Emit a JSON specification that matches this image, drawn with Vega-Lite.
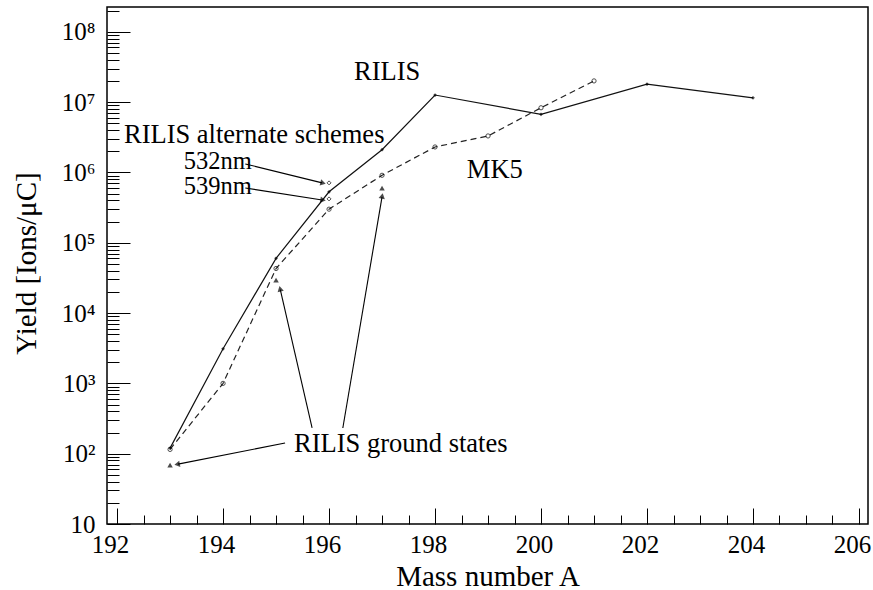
{
  "$schema": "https://vega.github.io/schema/vega-lite/v6.json",
  "width": 761,
  "height": 517,
  "autosize": {"type": "none"},
  "padding": {"left": 107, "top": 7, "right": 5, "bottom": 66},
  "background": "white",
  "config": {"view": {"stroke": "#000", "strokeWidth": 1.5}, "font": "Liberation Serif"},
  "datasets": {
    "series": [
      {"A": 193, "Y": 120, "series": "RILIS"},
      {"A": 194, "Y": 3100, "series": "RILIS"},
      {"A": 195, "Y": 60000, "series": "RILIS"},
      {"A": 196, "Y": 530000, "series": "RILIS"},
      {"A": 197, "Y": 2100000, "series": "RILIS"},
      {"A": 198, "Y": 12600000, "series": "RILIS"},
      {"A": 200, "Y": 6700000, "series": "RILIS"},
      {"A": 202, "Y": 18000000, "series": "RILIS"},
      {"A": 204, "Y": 11500000, "series": "RILIS"},
      {"A": 193, "Y": 115, "series": "MK5"},
      {"A": 194, "Y": 1000, "series": "MK5"},
      {"A": 195, "Y": 43000, "series": "MK5"},
      {"A": 196, "Y": 300000, "series": "MK5"},
      {"A": 197, "Y": 910000, "series": "MK5"},
      {"A": 198, "Y": 2300000, "series": "MK5"},
      {"A": 199, "Y": 3300000, "series": "MK5"},
      {"A": 200, "Y": 8300000, "series": "MK5"},
      {"A": 201, "Y": 20000000, "series": "MK5"}
    ],
    "alt": [
      {"A": 196, "Y": 710000, "scheme": "532nm"},
      {"A": 196, "Y": 420000, "scheme": "539nm"}
    ],
    "ground": [
      {"A": 193, "Y": 69},
      {"A": 195, "Y": 29500},
      {"A": 197, "Y": 600000}
    ],
    "labels": [
      {"A": 196.47, "Y": 27000000, "text": "RILIS"},
      {"A": 192.13, "Y": 3400000, "text": "RILIS alternate schemes"},
      {"A": 198.6, "Y": 1090000, "text": "MK5"},
      {"A": 195.34, "Y": 137, "text": "RILIS ground states"}
    ],
    "wavelabels": [
      {"A": 193.26, "Y": 1400000, "text": "532nm"},
      {"A": 193.26, "Y": 610000, "text": "539nm"}
    ],
    "arrows": [
      {"id": "a532", "A": 194.42, "Y": 1320000, "A2": 195.87, "Y2": 710000},
      {"id": "a539", "A": 194.42, "Y": 600000, "A2": 195.87, "Y2": 406000},
      {"id": "g1", "A": 195.17, "Y": 142, "A2": 193.15, "Y2": 71},
      {"id": "g2", "A": 195.68, "Y": 232, "A2": 195.08, "Y2": 21500},
      {"id": "g3", "A": 196.26, "Y": 232, "A2": 197.0, "Y2": 450000}
    ]
  },
  "encoding": {
    "x": {
      "field": "A", "type": "quantitative",
      "scale": {"domain": [191.81, 206.17], "nice": false, "zero": false},
      "axis": {
        "values": [192, 192.5, 193, 193.5, 194, 194.5, 195, 195.5, 196, 196.5, 197, 197.5, 198, 198.5, 199, 199.5, 200, 200.5, 201, 201.5, 202, 202.5, 203, 203.5, 204, 204.5, 205, 205.5, 206],
        "title": "Mass number A",
        "domain": false, "grid": false,
        "ticks": true, "tickColor": "#000", "tickWidth": 1,
        "tickSize": {"condition": {"test": "datum.value % 2 == 0", "value": -16}, "value": -9},
        "labelExpr": "datum.value % 2 == 0 ? format(datum.value, 'd') : ''",
        "labelFont": "Liberation Serif", "labelFontSize": 25, "labelColor": "#000",
        "labelPadding": 24, "labelOverlap": false, "labelFlush": false, "labelOffset": -7,
        "titleFont": "Liberation Serif", "titleFontSize": 29, "titleFontWeight": "normal", "titleColor": "#000",
        "titleY": 52, "titleBaseline": "middle"
      }
    },
    "y": {
      "field": "Y", "type": "quantitative",
      "scale": {"type": "log", "domain": [10, 225000000], "nice": false},
      "axis": {
        "values": [10, 20, 30, 40, 50, 60, 70, 80, 90, 100, 200, 300, 400, 500, 600, 700, 800, 900, 1000, 2000, 3000, 4000, 5000, 6000, 7000, 8000, 9000, 10000, 20000, 30000, 40000, 50000, 60000, 70000, 80000, 90000, 100000, 200000, 300000, 400000, 500000, 600000, 700000, 800000, 900000, 1000000, 2000000, 3000000, 4000000, 5000000, 6000000, 7000000, 8000000, 9000000, 10000000, 20000000, 30000000, 40000000, 50000000, 60000000, 70000000, 80000000, 90000000, 100000000, 200000000],
        "title": "Yield [Ions/μC]",
        "domain": false, "grid": false,
        "ticks": true, "tickColor": "#000", "tickWidth": 1,
        "tickSize": {"condition": {"test": "abs(log(datum.value)/LN10 - round(log(datum.value)/LN10)) < 0.001", "value": -23}, "value": -12},
        "labelExpr": "abs(log(datum.value)/LN10 - round(log(datum.value)/LN10)) < 0.001 ? (round(log(datum.value)/LN10) == 1 ? '10' : '10' + ['', '', '²', '³', '⁴', '⁵', '⁶', '⁷', '⁸'][round(log(datum.value)/LN10)]) : ''",
        "labelFont": "Liberation Serif", "labelFontSize": 25, "labelColor": "#000",
        "labelPadding": 35, "labelOverlap": false, "labelFlush": false,
        "titleFont": "Liberation Serif", "titleFontSize": 29, "titleFontWeight": "normal", "titleColor": "#000",
        "titleX": -81, "titleY": 256, "titleAlign": "center", "titleBaseline": "middle", "titleAngle": -90
      }
    }
  },
  "layer": [
    {
      "data": {"name": "series"},
      "transform": [{"filter": "datum.series == 'RILIS'"}],
      "mark": {"type": "line", "color": "#111", "strokeWidth": 1.2},
      "encoding": {}
    },
    {
      "data": {"name": "series"},
      "transform": [{"filter": "datum.series == 'MK5'"}],
      "mark": {"type": "line", "color": "#222", "strokeWidth": 1.2, "strokeDash": [6, 4]},
      "encoding": {}
    },
    {
      "data": {"name": "series"},
      "transform": [{"filter": "datum.series == 'RILIS'"}],
      "mark": {"type": "point", "shape": "diamond", "filled": true, "color": "#000", "size": 14}
    },
    {
      "data": {"name": "series"},
      "transform": [{"filter": "datum.series == 'MK5'"}],
      "mark": {"type": "point", "shape": "circle", "filled": false, "color": "#000", "size": 18, "strokeWidth": 1}
    },
    {
      "data": {"name": "alt"},
      "mark": {"type": "point", "shape": "diamond", "filled": false, "color": "#000", "size": 16, "strokeWidth": 1}
    },
    {
      "data": {"name": "ground"},
      "mark": {"type": "point", "shape": "triangle-up", "filled": true, "color": "#000", "size": 30}
    },
    {
      "data": {"name": "arrows"},
      "mark": {"type": "rule", "color": "#000", "strokeWidth": 1.1},
      "encoding": {"x2": {"field": "A2"}, "y2": {"field": "Y2"}}
    },
    {
      "data": {"name": "arrows"},
      "transform": [{"filter": "datum.id == 'a532'"}],
      "mark": {"type": "point", "shape": "triangle", "filled": true, "color": "#000", "size": 40, "angle": 104},
      "encoding": {"x": {"field": "A2", "type": "quantitative"}, "y": {"field": "Y2", "type": "quantitative"}}
    },
    {
      "data": {"name": "arrows"},
      "transform": [{"filter": "datum.id == 'a539'"}],
      "mark": {"type": "point", "shape": "triangle", "filled": true, "color": "#000", "size": 40, "angle": 99},
      "encoding": {"x": {"field": "A2", "type": "quantitative"}, "y": {"field": "Y2", "type": "quantitative"}}
    },
    {
      "data": {"name": "arrows"},
      "transform": [{"filter": "datum.id == 'g1'"}],
      "mark": {"type": "point", "shape": "triangle", "filled": true, "color": "#000", "size": 40, "angle": 259},
      "encoding": {"x": {"field": "A2", "type": "quantitative"}, "y": {"field": "Y2", "type": "quantitative"}}
    },
    {
      "data": {"name": "arrows"},
      "transform": [{"filter": "datum.id == 'g2'"}],
      "mark": {"type": "point", "shape": "triangle", "filled": true, "color": "#000", "size": 40, "angle": 347},
      "encoding": {"x": {"field": "A2", "type": "quantitative"}, "y": {"field": "Y2", "type": "quantitative"}}
    },
    {
      "data": {"name": "arrows"},
      "transform": [{"filter": "datum.id == 'g3'"}],
      "mark": {"type": "point", "shape": "triangle", "filled": true, "color": "#000", "size": 40, "angle": 10},
      "encoding": {"x": {"field": "A2", "type": "quantitative"}, "y": {"field": "Y2", "type": "quantitative"}}
    },
    {
      "data": {"name": "labels"},
      "mark": {"type": "text", "align": "left", "baseline": "middle", "font": "Liberation Serif", "fontSize": 26.5, "color": "#000"},
      "encoding": {"text": {"field": "text"}}
    },
    {
      "data": {"name": "wavelabels"},
      "mark": {"type": "text", "align": "left", "baseline": "middle", "font": "Liberation Serif", "fontSize": 24.5, "color": "#000"},
      "encoding": {"text": {"field": "text"}}
    }
  ]
}
